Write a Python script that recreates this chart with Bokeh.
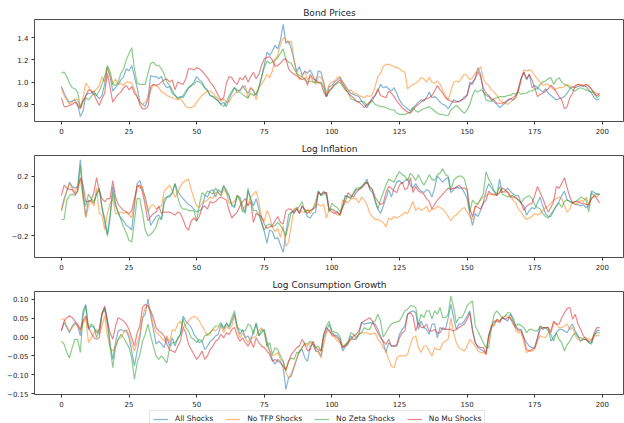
from bokeh.plotting import figure
from bokeh.layouts import column
from bokeh.models import Range1d, FixedTicker, Legend, LegendItem
from bokeh.embed import file_html
from bokeh.resources import INLINE

# ---------------------------------------------------------------- data
periods = list(range(200))
x_ticks = [0, 25, 50, 75, 100, 125, 150, 175, 200]

series_names = ["All Shocks", "No TFP Shocks", "No Zeta Shocks", "No Mu Shocks"]
series_colors = ["#1f77b4", "#ff7f0e", "#2ca02c", "#d62728"]

bond_yticks = [0.8, 1.0, 1.2, 1.4]
bond_ylabels = ["0.8", "1.0", "1.2", "1.4"]
infl_yticks = [-0.2, 0.0, 0.2]
infl_ylabels = ["\u22120.2", "0.0", "0.2"]
cons_yticks = [-0.15, -0.10, -0.05, 0.0, 0.05, 0.10]
cons_ylabels = ["\u22120.15", "\u22120.10", "\u22120.05", "0.00", "0.05", "0.10"]

# Bond prices
bond_all = [
    0.96, 0.90, 0.85, 0.82, 0.83, 0.84, 0.80, 0.69, 0.74, 0.88,
    0.90, 0.90, 0.92, 0.88, 0.85, 0.88, 0.98, 1.13, 1.05, 0.92,
    0.95, 0.98, 1.02, 1.05, 1.12, 1.10, 1.15, 1.05, 0.95, 0.82,
    0.80, 0.78, 0.85, 1.06, 1.05, 1.05, 1.03, 1.05, 0.98, 0.95,
    0.96, 0.90, 0.88, 0.86, 0.87, 0.86, 0.90, 0.95, 0.97, 1.00,
    1.05, 1.02, 1.00, 0.95, 0.93, 0.88, 0.87, 0.85, 0.83, 0.80,
    0.82, 0.78, 0.85, 0.90, 0.95, 0.93, 0.92, 0.97, 0.93, 0.90,
    0.95, 0.92, 0.88, 0.95, 1.05, 1.15, 1.27, 1.24, 1.28, 1.33,
    1.30, 1.38, 1.52, 1.35, 1.37, 1.30, 1.20, 1.09, 1.14, 1.06,
    1.10, 1.08, 1.11, 1.06, 1.00, 1.10, 1.09, 0.99, 0.87, 0.96,
    0.97, 1.00, 1.02, 1.04, 1.00, 0.97, 0.93, 0.90, 0.89, 0.88,
    0.87, 0.83, 0.80, 0.77, 0.82, 0.86, 0.88, 0.92, 0.98, 0.95,
    0.96, 0.94, 0.92, 0.95, 0.90, 0.84, 0.80, 0.78, 0.76, 0.74,
    0.77, 0.79, 0.82, 0.84, 0.83, 0.86, 0.91, 0.86, 0.87, 0.85,
    0.82, 0.80, 0.79, 0.76, 0.80, 0.84, 0.83, 0.82, 0.84, 0.87,
    0.88, 1.00, 0.98, 1.04, 1.13, 1.07, 0.91, 0.88, 0.87, 0.84,
    0.82, 0.80, 0.77, 0.79, 0.81, 0.83, 0.85, 0.84, 0.86, 0.95,
    1.04, 1.09, 1.02, 1.07, 0.95, 0.97, 0.95, 0.93, 0.91, 0.94,
    0.90, 0.88, 0.86, 0.84, 0.85, 0.86, 0.87, 0.90, 0.94, 0.96,
    0.95, 0.96, 0.97, 0.97, 0.96, 0.93, 0.90, 0.86, 0.84, 0.85,
]
bond_no_tfp = [
    0.95, 0.88, 0.84, 0.80, 0.82, 0.85, 0.84, 0.77, 0.86, 0.99,
    0.96, 0.92, 0.91, 0.94, 0.97, 1.05, 1.00, 1.13, 1.06, 0.98,
    1.03, 0.98, 0.99, 0.97, 1.00, 1.00, 0.99, 0.93, 0.87, 0.82,
    0.80, 0.82, 0.87, 0.93, 0.98, 0.97, 0.95, 0.91, 0.90, 0.88,
    0.87, 0.86, 0.85, 0.84, 0.85, 0.82, 0.78, 0.77, 0.77, 0.78,
    0.82, 0.85, 0.88, 0.90, 0.92, 0.92, 0.90, 0.87, 0.85, 0.83,
    0.85, 0.82, 0.82, 0.87, 0.89, 0.92, 0.93, 0.95, 0.97, 0.85,
    0.95, 0.93, 0.84, 0.95, 0.98, 1.02, 1.07, 1.04, 1.10, 1.20,
    1.24, 1.34, 1.40, 1.38, 1.35, 1.37, 1.20, 1.08, 1.02, 1.05,
    1.10, 1.02, 1.05, 1.01, 0.98, 1.05, 1.04, 1.00, 0.90, 0.98,
    1.00, 1.01, 1.04, 1.05, 1.00, 0.95, 0.92, 0.93, 0.90, 0.90,
    0.88, 0.87, 0.86, 0.88, 0.87, 0.89, 0.96, 1.05, 1.08, 1.14,
    1.16, 1.16, 1.15, 1.14, 1.13, 1.12, 1.10, 1.09, 0.94, 0.96,
    0.98, 0.99, 1.01, 1.04, 1.03, 1.00, 1.04, 1.00, 0.99, 1.01,
    0.98, 0.93, 0.88, 0.84, 0.92, 1.00, 1.01, 1.00, 1.04, 1.07,
    1.06, 1.02, 1.04, 1.08, 1.10, 1.14, 1.03, 0.99, 0.97, 0.93,
    0.91, 0.88, 0.84, 0.82, 0.81, 0.80, 0.82, 0.84, 0.86, 0.92,
    1.02, 1.11, 1.10, 1.11, 1.10, 1.06, 1.03, 1.00, 0.97, 0.98,
    0.98, 0.96, 0.93, 0.94, 0.95, 0.95, 0.96, 0.98, 0.97, 0.95,
    0.96, 0.98, 0.98, 0.97, 0.98, 0.97, 0.93, 0.91, 0.90, 0.88,
]
bond_no_zeta = [
    1.08, 1.09, 1.05, 0.99, 0.95, 0.94, 0.91, 0.77, 0.84, 0.86,
    0.84, 0.87, 0.90, 0.88, 0.92, 0.98, 1.05, 1.15, 1.10, 0.98,
    0.97, 1.00, 1.08, 1.12, 1.20, 1.26, 1.31, 1.12, 0.99, 0.98,
    0.98, 0.98, 1.08, 1.17, 1.18, 1.15, 1.15, 1.12, 1.07, 1.00,
    0.97, 0.93, 0.88, 0.85, 0.86, 0.88, 0.92, 0.95, 0.97, 0.98,
    1.01, 1.00, 0.98, 0.95, 0.92, 0.88, 0.87, 0.85, 0.83, 0.80,
    0.78, 0.82, 0.88, 0.92, 0.95, 0.91, 0.91, 0.89, 0.87, 0.86,
    0.90, 0.88, 0.90, 0.95, 1.04, 1.13, 1.19, 1.17, 1.18, 1.20,
    1.22, 1.26, 1.30, 1.20, 1.18, 1.17, 1.12, 1.08, 1.06, 1.05,
    1.02, 1.00, 1.01, 1.00, 1.00, 0.99, 1.00, 0.95, 0.87, 0.92,
    0.94, 0.97, 0.99, 1.00, 0.96, 0.93, 0.91, 0.85, 0.84, 0.83,
    0.82, 0.83, 0.82, 0.79, 0.81, 0.83, 0.80, 0.79, 0.78, 0.78,
    0.77, 0.76, 0.75, 0.75, 0.72, 0.71, 0.71, 0.71, 0.72, 0.73,
    0.77, 0.74, 0.73, 0.75, 0.76, 0.77, 0.78, 0.76, 0.74, 0.72,
    0.71, 0.71, 0.70, 0.70, 0.75, 0.77, 0.79, 0.77, 0.74, 0.72,
    0.75, 0.80, 0.88, 0.93, 0.91, 0.93, 0.92, 0.84, 0.83, 0.83,
    0.85, 0.86, 0.87, 0.87, 0.87, 0.88, 0.88, 0.90, 0.89, 0.91,
    0.89, 0.90, 0.90, 0.92, 0.92, 0.94, 0.94, 0.98, 1.00, 1.01,
    1.03, 1.04, 0.98, 1.02, 1.04, 1.00, 0.98, 0.97, 0.95, 0.93,
    0.92, 0.94, 0.95, 0.94, 0.93, 0.92, 0.91, 0.91, 0.86, 0.88,
]
bond_no_mu = [
    0.86, 0.78, 0.78, 0.79, 0.80, 0.82, 0.79, 0.76, 0.82, 0.88,
    0.93, 0.92, 0.89, 0.84, 0.79, 0.85, 0.90, 1.08, 0.95, 0.82,
    0.86, 0.89, 0.91, 0.95, 0.97, 0.93, 0.96, 0.90, 0.87, 0.80,
    0.76, 0.76, 0.78, 0.96, 0.98, 0.97, 0.98, 1.00, 1.02, 1.03,
    1.00, 1.02, 0.93, 1.00, 0.99, 0.98, 1.03, 1.12, 1.12, 1.11,
    1.13, 1.12, 1.10, 1.07, 1.04, 1.00, 0.97, 0.93, 0.88, 0.84,
    0.86, 0.99, 1.05, 1.04, 1.00, 0.98, 1.04, 1.02, 1.06, 1.00,
    1.05, 1.09, 1.03, 1.07, 1.15, 1.21, 1.22, 1.23, 1.20, 1.14,
    1.15, 1.17, 1.20, 1.21, 1.12, 1.09, 1.07, 1.06, 1.04, 1.02,
    1.04, 0.97, 1.07, 1.03, 1.02, 1.00, 0.99, 0.91, 0.87, 0.92,
    0.95, 0.98, 1.00, 1.02, 0.98, 0.94, 0.90, 0.88, 0.86, 0.83,
    0.82, 0.80, 0.77, 0.80, 0.82, 0.84, 0.88, 0.94, 0.88, 0.87,
    0.86, 0.92, 0.90, 0.87, 0.83, 0.80, 0.77, 0.75, 0.73, 0.72,
    0.75, 0.78, 0.80, 0.82, 0.84, 0.85, 0.86, 0.88, 0.92, 0.97,
    0.93, 0.90, 0.86, 0.84, 0.83, 0.82, 0.82, 0.83, 0.84, 0.85,
    0.88, 0.97, 1.00, 1.03, 1.09, 1.05, 0.95, 0.90, 0.88, 0.85,
    0.84, 0.81, 0.81, 0.81, 0.82, 0.84, 0.85, 0.86, 0.88, 0.93,
    1.03, 1.09, 1.03, 1.07, 1.02, 0.95, 0.87, 0.89, 0.90, 0.92,
    0.94, 0.97, 0.95, 0.91, 0.87, 0.84, 0.76, 0.78, 0.86, 0.90,
    0.97, 0.98, 0.97, 0.96, 0.98, 0.96, 0.94, 0.89, 0.88, 0.90,
]

# Log inflation
infl_all = [
    -0.03, 0.05, 0.10, 0.16, 0.13, 0.12, 0.13, 0.31, 0.09, -0.07,
    0.04, 0.03, 0.02, 0.08, 0.12, -0.02, -0.08, -0.19, -0.06, 0.13,
    0.02, -0.05, -0.08, -0.10, -0.13, -0.14, -0.16, 0.00, 0.15, 0.17,
    0.11, 0.06, -0.02, -0.13, -0.10, -0.07, -0.06, -0.09, 0.02, 0.06,
    0.07, 0.09, 0.15, 0.10, 0.07, 0.05, 0.03, 0.01, 0.00, -0.02,
    -0.04, -0.03, -0.02, 0.07, 0.06, 0.10, 0.11, 0.06, 0.11, 0.09,
    0.13, 0.11, 0.07, 0.00, -0.01, 0.07, 0.06, 0.00, -0.05, 0.10,
    0.05, 0.00, 0.05, -0.02, -0.11, -0.17, -0.25, -0.16, -0.17, -0.22,
    -0.21, -0.26, -0.31, -0.18, -0.06, -0.04, -0.03, -0.01, -0.05, 0.00,
    -0.03, -0.07, -0.08, -0.05, -0.04, 0.10, 0.07, 0.10, 0.07, -0.03,
    -0.02, -0.03, -0.04, -0.06, 0.00, 0.07, 0.06, 0.06, 0.08, 0.11,
    0.11, 0.13, 0.15, 0.18, 0.11, 0.09, 0.04, -0.02, -0.05, 0.00,
    0.05, 0.11, 0.06, 0.12, 0.16, 0.17, 0.15, 0.17, 0.18, 0.14,
    0.12, 0.15, 0.12, 0.10, 0.09, 0.11, 0.10, 0.06, 0.12, 0.20,
    0.18, 0.16, 0.18, 0.19, 0.09, 0.11, 0.13, 0.12, 0.12, 0.09,
    0.05, -0.05, -0.13, -0.05, -0.07, -0.03, 0.02, 0.10, 0.15, 0.12,
    0.10, 0.07, 0.18, 0.09, 0.10, 0.12, 0.10, 0.08, 0.07, 0.07,
    0.02, 0.00, -0.06, -0.03, -0.01, -0.02, 0.02, 0.06, 0.00, -0.05,
    -0.07, -0.07, -0.03, 0.00, 0.03, 0.07, 0.10, 0.04, 0.03, 0.02,
    0.01, 0.01, 0.00, 0.01, -0.01, 0.00, 0.10, 0.09, 0.08, 0.08,
]
infl_no_tfp = [
    -0.03, 0.03, 0.10, 0.15, 0.12, 0.09, 0.13, 0.18, 0.05, -0.08,
    0.00, 0.04, 0.00, 0.12, -0.05, -0.06, -0.16, -0.05, 0.02, 0.05,
    -0.05, -0.05, -0.04, -0.05, -0.04, -0.06, -0.08, 0.02, 0.14, 0.12,
    0.13, 0.04, -0.04, 0.00, 0.01, -0.02, -0.01, 0.00, 0.10, 0.12,
    0.14, 0.10, 0.06, 0.09, 0.13, 0.16, 0.17, 0.18, 0.11, 0.05,
    0.00, -0.01, 0.02, 0.03, 0.04, 0.06, 0.05, 0.09, 0.09, 0.07,
    0.11, 0.09, 0.02, 0.02, 0.03, 0.07, 0.04, -0.03, 0.00, 0.01,
    0.06, 0.08, 0.10, 0.03, -0.08, -0.10, -0.03, -0.07, -0.14, -0.17,
    -0.15, -0.21, -0.13, -0.27, -0.24, -0.13, -0.02, -0.01, -0.03, -0.04,
    -0.04, -0.02, -0.05, -0.02, 0.01, 0.01, 0.00, 0.01, -0.08, -0.02,
    -0.02, -0.04, -0.06, -0.06, 0.04, 0.03, 0.02, 0.05, 0.05, 0.05,
    0.02, 0.06, 0.04, 0.01, -0.05, -0.07, -0.09, -0.09, -0.10, -0.11,
    -0.14, -0.08, -0.09, -0.07, -0.08, -0.07, -0.06, -0.04, -0.05, -0.01,
    0.03, -0.03, -0.01, -0.03, -0.02, 0.00, -0.04, -0.02, -0.02, 0.00,
    -0.01, -0.02, -0.04, -0.07, -0.10, -0.07, -0.06, -0.04, -0.02, -0.01,
    -0.04, -0.07, -0.09, -0.01, 0.02, 0.04, 0.06, 0.07, 0.08, 0.08,
    0.07, 0.08, 0.09, 0.10, 0.09, 0.10, 0.07, 0.04, 0.02, -0.02,
    -0.04, -0.07, -0.09, -0.08, -0.07, -0.05, -0.06, -0.05, -0.03, -0.01,
    0.00, 0.02, 0.04, 0.05, 0.06, 0.05, 0.00, -0.04, -0.02, 0.03,
    0.01, 0.02, 0.04, 0.03, 0.06, 0.01, 0.05, 0.07, 0.06, 0.08,
]
infl_no_zeta = [
    -0.09, -0.09, 0.04, 0.07, 0.08, 0.07, 0.10, 0.27, 0.06, 0.00,
    0.08, 0.05, 0.03, 0.08, 0.11, 0.00, -0.11, -0.20, -0.08, 0.09,
    0.00, -0.04, -0.09, -0.14, -0.18, -0.23, -0.24, -0.10, 0.05, 0.05,
    -0.05, -0.16, -0.20, -0.19, -0.17, -0.14, -0.08, -0.09, 0.05, 0.06,
    0.06, 0.09, 0.15, 0.06, 0.00, -0.02, -0.02, -0.03, -0.03, -0.03,
    -0.10, 0.01, 0.09, 0.07, 0.10, 0.09, 0.08, 0.12, 0.09, 0.07,
    0.14, 0.09, 0.06, 0.01, 0.00, 0.07, 0.04, -0.04, -0.03, 0.12,
    0.04, -0.03, -0.03, -0.06, -0.11, -0.16, -0.13, -0.12, -0.14, -0.13,
    -0.11, -0.13, -0.16, -0.20, -0.12, -0.04, -0.04, -0.02, 0.00, 0.03,
    -0.04, -0.03, -0.03, -0.02, 0.03, 0.10, 0.07, 0.08, 0.09, -0.04,
    0.02, 0.00, -0.01, -0.04, 0.00, 0.07, 0.06, 0.05, 0.09, 0.12,
    0.12, 0.13, 0.15, 0.16, 0.12, 0.11, 0.03, -0.02, 0.04, 0.09,
    0.14, 0.18, 0.17, 0.16, 0.20, 0.23, 0.21, 0.20, 0.17, 0.22,
    0.20, 0.17, 0.21, 0.17, 0.14, 0.17, 0.21, 0.18, 0.17, 0.21,
    0.22, 0.25, 0.21, 0.20, 0.11, 0.17, 0.19, 0.20, 0.20, 0.18,
    0.11, -0.04, 0.04, 0.02, 0.01, 0.05, 0.08, 0.23, 0.18, 0.15,
    0.10, 0.08, 0.13, 0.08, 0.07, 0.06, 0.07, 0.07, 0.05, 0.04,
    0.02, 0.05, 0.06, 0.07, 0.05, 0.01, -0.01, -0.02, -0.05, -0.07,
    -0.08, -0.05, -0.03, 0.00, 0.02, -0.01, 0.03, 0.04, 0.03, 0.02,
    0.03, 0.04, 0.06, 0.05, 0.04, -0.04, 0.09, 0.07, 0.08, 0.08,
]
infl_no_mu = [
    0.07, 0.14, 0.12, 0.11, 0.11, 0.08, 0.10, 0.19, 0.14, 0.03,
    0.03, 0.04, 0.09, 0.19, 0.10, 0.05, 0.03, 0.05, 0.05, 0.17,
    0.06, 0.01, -0.01, -0.03, -0.04, -0.05, -0.03, 0.05, 0.13, 0.14,
    0.09, 0.00, -0.10, -0.07, -0.05, -0.04, 0.00, -0.05, -0.04, -0.04,
    -0.04, -0.05, -0.06, -0.04, -0.05, -0.09, -0.14, -0.16, -0.10, -0.08,
    -0.10, -0.07, -0.01, 0.00, -0.02, 0.03, 0.02, 0.03, 0.05, 0.06,
    0.05, 0.04, -0.03, -0.08, -0.06, -0.04, 0.00, 0.03, 0.05, 0.00,
    0.03, -0.11, -0.05, -0.06, -0.07, -0.12, -0.15, -0.14, -0.13, -0.10,
    -0.07, -0.11, -0.12, -0.03, -0.02, -0.02, -0.05, -0.02, -0.05, 0.00,
    -0.02, -0.05, -0.03, -0.02, -0.01, 0.09, 0.08, 0.09, 0.09, -0.02,
    -0.04, -0.05, -0.04, -0.06, -0.01, 0.03, 0.09, 0.07, 0.06, 0.09,
    0.11, 0.12, 0.14, 0.16, 0.13, 0.11, 0.06, 0.03, 0.01, 0.02,
    0.09, 0.13, 0.12, 0.10, 0.09, 0.14, 0.16, 0.11, 0.12, 0.19,
    0.09, 0.13, 0.10, 0.09, 0.08, 0.05, 0.03, -0.02, 0.01, 0.04,
    0.06, 0.08, 0.10, 0.12, 0.11, 0.12, 0.12, 0.14, 0.12, 0.12,
    0.11, -0.02, -0.07, 0.00, -0.01, -0.02, 0.02, 0.04, 0.10, 0.08,
    0.08, 0.07, 0.09, 0.12, 0.11, 0.09, 0.06, 0.06, 0.06, 0.04,
    0.02, -0.03, 0.00, 0.01, 0.02, 0.07, 0.13, 0.09, 0.05, 0.00,
    -0.04, -0.01, 0.03, 0.13, 0.12, 0.15, 0.19, 0.12, 0.06, 0.02,
    0.03, 0.03, 0.02, 0.02, 0.01, 0.01, 0.05, 0.07, 0.05, 0.02,
]

# Log consumption growth
cons_all = [
    0.018, 0.038, 0.025, 0.011, 0.029, 0.038, 0.029, 0.003, 0.069, 0.086,
    0.020, 0.029, 0.025, 0.011, 0.020, 0.064, 0.078, 0.047, -0.019, -0.059,
    -0.015, 0.016, 0.020, 0.016, 0.016, -0.002, -0.037, -0.077, -0.037, -0.002,
    0.051, 0.060, 0.100, 0.056, 0.020, -0.019, -0.011, -0.019, -0.028, -0.002,
    -0.024, -0.002, -0.024, -0.002, 0.007, 0.055, 0.042, 0.034, 0.025, 0.007,
    -0.002, -0.015, -0.011, -0.033, -0.024, -0.011, -0.006, 0.003, 0.007, 0.034,
    0.020, 0.038, 0.025, 0.042, 0.060, 0.029, 0.007, 0.020, -0.002, 0.003,
    -0.011, 0.016, 0.034, 0.003, 0.011, 0.020, -0.011, -0.037, -0.059, -0.072,
    -0.059, -0.064, -0.081, -0.138, -0.108, -0.103, -0.081, -0.059, -0.037, -0.033,
    -0.055, -0.064, -0.024, -0.019, -0.037, -0.037, -0.050, -0.002, 0.016, 0.034,
    0.012, 0.005, 0.003, -0.006, -0.037, -0.025, -0.019, 0.003, -0.006, -0.006,
    0.007, 0.038, 0.034, 0.036, 0.038, 0.036, 0.034, 0.020, 0.003, -0.015,
    -0.041, -0.015, -0.024, -0.024, -0.020, 0.007, 0.020, 0.029, 0.060, 0.066,
    0.069, 0.064, 0.020, 0.042, 0.025, 0.020, 0.007, 0.034, 0.034, -0.002,
    0.025, 0.020, 0.020, 0.050, 0.086, 0.051, 0.020, 0.034, 0.034, 0.042,
    0.055, 0.069, 0.020, -0.015, -0.028, -0.033, -0.037, -0.041, 0.007, 0.025,
    0.034, 0.047, 0.042, 0.051, 0.047, 0.042, 0.060, 0.051, 0.029, 0.020,
    0.020, -0.002, -0.015, -0.024, -0.028, -0.028, -0.002, 0.029, 0.020, 0.025,
    0.025, -0.011, 0.000, 0.011, 0.020, 0.020, 0.016, 0.011, 0.025, 0.034,
    0.016, 0.003, -0.011, -0.006, -0.006, -0.015, -0.015, 0.003, 0.018, 0.017,
]
cons_no_tfp = [
    0.047, 0.047, 0.029, 0.016, 0.025, 0.034, 0.029, 0.016, 0.034, 0.051,
    -0.015, -0.002, 0.011, 0.020, 0.007, 0.029, 0.056, 0.003, -0.028, -0.037,
    -0.024, -0.006, -0.002, 0.011, 0.020, 0.007, -0.019, -0.037, -0.015, 0.007,
    0.051, 0.078, 0.082, 0.064, 0.034, 0.011, 0.007, -0.002, -0.011, 0.003,
    -0.015, 0.020, 0.016, 0.034, 0.042, 0.025, 0.034, 0.042, 0.051, 0.055,
    0.051, 0.042, 0.029, 0.016, 0.003, 0.011, 0.020, 0.016, 0.025, 0.029,
    0.011, 0.029, 0.020, 0.029, 0.055, 0.020, -0.002, 0.011, -0.002, -0.015,
    -0.002, -0.002, 0.003, 0.016, 0.025, 0.011, -0.024, -0.037, -0.050, -0.046,
    -0.041, -0.059, -0.064, -0.094, -0.108, -0.094, -0.077, -0.055, -0.037, -0.028,
    -0.019, -0.024, -0.015, -0.019, -0.033, -0.041, -0.055, -0.019, 0.011, 0.020,
    0.003, 0.000, -0.011, -0.015, -0.024, -0.020, -0.015, -0.006, -0.006, -0.002,
    0.007, 0.011, 0.011, 0.011, 0.007, 0.009, 0.011, -0.006, -0.015, -0.028,
    -0.037, -0.059, -0.077, -0.081, -0.055, -0.050, -0.050, -0.050, -0.046, -0.020,
    -0.002, 0.003, -0.028, -0.041, -0.024, -0.024, -0.037, -0.050, -0.028, -0.033,
    -0.033, -0.015, -0.011, -0.006, 0.051, 0.011, -0.015, -0.028, -0.033, -0.037,
    -0.024, -0.006, -0.015, -0.024, -0.037, -0.041, -0.041, -0.046, -0.002, 0.029,
    0.029, 0.047, 0.042, 0.051, 0.055, 0.056, 0.047, 0.042, 0.016, 0.011,
    0.011, -0.015, -0.041, -0.037, -0.037, -0.033, -0.011, 0.003, 0.000, -0.002,
    0.011, 0.020, 0.038, 0.034, 0.025, 0.025, 0.029, 0.034, 0.020, 0.025,
    0.003, -0.006, -0.011, -0.002, -0.002, -0.006, -0.006, 0.003, 0.003, 0.005,
]
cons_no_zeta = [
    -0.011, -0.019, -0.041, -0.055, -0.028, -0.006, -0.006, -0.041, 0.056, 0.082,
    0.025, 0.034, 0.029, -0.002, 0.020, 0.060, 0.073, 0.034, -0.024, -0.081,
    -0.028, -0.006, 0.007, -0.002, -0.015, -0.028, -0.055, -0.112, -0.068, -0.046,
    -0.011, 0.007, 0.034, 0.003, -0.024, -0.050, -0.059, -0.050, -0.059, -0.068,
    -0.028, -0.015, -0.015, -0.006, 0.007, 0.047, 0.025, 0.016, -0.002, -0.006,
    -0.015, -0.006, -0.011, 0.003, 0.007, 0.011, 0.020, 0.029, 0.029, 0.038,
    0.025, 0.034, 0.029, 0.051, 0.069, 0.025, 0.020, 0.016, 0.016, 0.034,
    0.029, 0.007, 0.038, 0.003, 0.020, 0.016, -0.024, -0.015, -0.046, -0.028,
    -0.033, -0.050, -0.064, -0.090, -0.064, -0.055, -0.059, -0.041, -0.041, -0.028,
    -0.015, -0.019, -0.011, -0.015, -0.028, -0.024, -0.037, 0.007, 0.029, 0.042,
    0.016, 0.013, 0.011, 0.000, -0.028, -0.020, -0.011, 0.011, 0.007, -0.002,
    0.007, 0.011, 0.025, 0.020, 0.020, 0.038, 0.042, 0.060, 0.042, 0.000,
    0.011, 0.025, 0.034, 0.038, 0.040, 0.042, 0.055, 0.069, 0.073, 0.082,
    0.082, 0.078, 0.034, 0.060, 0.051, 0.069, 0.069, 0.047, 0.069, 0.060,
    0.078, 0.051, 0.051, 0.060, 0.108, 0.078, 0.038, 0.051, 0.051, 0.064,
    0.082, 0.090, 0.095, 0.029, 0.016, 0.000, -0.015, -0.028, -0.028, 0.025,
    0.060, 0.069, 0.060, 0.051, 0.055, 0.064, 0.064, 0.042, 0.029, 0.034,
    0.030, 0.025, 0.011, 0.020, 0.020, 0.016, 0.016, 0.029, 0.025, 0.025,
    0.016, 0.007, -0.011, 0.011, -0.006, -0.015, -0.037, -0.020, -0.011, 0.003,
    0.011, 0.000, -0.002, -0.006, -0.006, -0.015, -0.019, 0.007, 0.011, 0.011,
]
cons_no_mu = [
    0.016, 0.042, 0.051, 0.056, 0.051, 0.042, 0.034, 0.020, 0.042, 0.056,
    0.025, 0.011, -0.002, -0.006, -0.002, 0.060, 0.082, 0.042, 0.011, -0.006,
    0.029, 0.051, 0.047, 0.042, 0.034, 0.020, -0.002, -0.024, 0.011, 0.029,
    0.078, 0.086, 0.082, 0.069, 0.051, 0.025, 0.016, 0.011, 0.003, -0.019,
    -0.033, -0.037, -0.041, -0.024, -0.011, 0.025, 0.011, -0.019, -0.033, -0.046,
    -0.059, -0.050, -0.037, -0.059, -0.050, -0.033, -0.024, -0.011, -0.006, 0.007,
    -0.002, 0.011, 0.007, 0.020, 0.025, 0.003, -0.011, -0.002, -0.015, -0.024,
    -0.011, -0.028, -0.002, -0.015, -0.024, -0.028, -0.037, -0.046, -0.064, -0.059,
    -0.064, -0.068, -0.077, -0.086, -0.064, -0.046, -0.037, -0.028, -0.024, -0.006,
    -0.019, -0.037, -0.033, -0.011, -0.028, -0.033, -0.037, 0.007, 0.025, 0.016,
    0.007, 0.003, -0.002, -0.011, -0.028, -0.024, -0.015, -0.006, 0.003, 0.007,
    0.016, 0.038, 0.042, 0.047, 0.051, 0.042, 0.025, 0.011, -0.002, -0.011,
    -0.020, -0.006, -0.024, -0.024, -0.024, -0.002, 0.011, 0.016, 0.060, 0.064,
    0.055, 0.016, 0.038, 0.025, 0.025, 0.034, 0.016, 0.016, 0.020, 0.011,
    0.011, 0.025, 0.020, 0.020, 0.020, 0.016, 0.020, 0.025, 0.029, 0.034,
    0.047, 0.064, 0.016, -0.015, -0.024, -0.028, -0.028, -0.046, 0.003, 0.029,
    0.042, 0.042, 0.038, 0.051, 0.047, 0.051, 0.051, 0.034, 0.025, 0.016,
    0.016, -0.002, -0.033, -0.037, -0.033, -0.028, -0.006, 0.020, 0.025, 0.025,
    0.025, 0.011, 0.042, 0.034, 0.034, 0.051, 0.064, 0.075, 0.078, 0.047,
    0.060, 0.034, 0.020, 0.003, -0.006, -0.011, -0.011, 0.011, 0.025, 0.025,
]

# ---------------------------------------------------------------- styling
FONT = "DejaVu Sans"
TEXT_COLOR = "#262626"
LINE_ALPHA = 0.55
LINE_WIDTH = 1.2


def make_panel(title, series, y_start, y_end, yticks, ylabels,
               height, border_top, border_bottom):
    p = figure(
        width=624, height=height, title=title,
        x_range=Range1d(-9.95, 208.2), y_range=Range1d(y_start, y_end),
        output_backend="svg", toolbar_location=None,
        min_border_left=34, min_border_right=0,
        min_border_top=border_top, min_border_bottom=border_bottom,
    )
    p.title.align = "center"
    p.title.text_font = FONT
    p.title.text_font_size = "9px"
    p.title.text_font_style = "normal"
    p.title.text_color = TEXT_COLOR
    p.title.standoff = 4

    p.background_fill_color = "white"
    p.border_fill_color = "white"
    p.outline_line_color = "#4d4d4d"
    p.outline_line_width = 1
    p.xgrid.visible = False
    p.ygrid.visible = False

    p.xaxis.ticker = FixedTicker(ticks=x_ticks)
    p.yaxis.ticker = FixedTicker(ticks=yticks)
    p.yaxis.major_label_overrides = dict(zip(yticks, ylabels))
    for ax in (p.xaxis[0], p.yaxis[0]):
        ax.axis_line_color = None
        ax.major_tick_in = 0
        ax.major_tick_out = 3
        ax.major_tick_line_color = "#333333"
        ax.minor_tick_line_color = None
        ax.major_label_text_font = FONT
        ax.major_label_text_font_size = "7px"
        ax.major_label_text_color = TEXT_COLOR
        ax.major_label_standoff = 3

    for ys, color in zip(series, series_colors):
        p.line(periods, ys, line_color=color, line_alpha=LINE_ALPHA, line_width=LINE_WIDTH)
    return p


cons_series = [cons_all, cons_no_tfp, cons_no_zeta, cons_no_mu]

p1 = make_panel("Bond Prices",
                [bond_all, bond_no_tfp, bond_no_zeta, bond_no_mu],
                0.646, 1.563, bond_yticks, bond_ylabels, 136, 19, 14)
p2 = make_panel("Log Inflation",
                [infl_all, infl_no_tfp, infl_no_zeta, infl_no_mu],
                -0.344, 0.338, infl_yticks, infl_ylabels, 136, 19, 14)
p3 = make_panel("Log Consumption Growth", cons_series,
                -0.1516, 0.120, cons_yticks, cons_ylabels, 137, 19, 15)

# Legend strip: the same consumption series, with the view placed away from
# the data so only the legend box shows.
key = figure(width=624, height=14, x_range=Range1d(0, 1), y_range=Range1d(10, 11),
             x_axis_type=None, y_axis_type=None, output_backend="svg",
             toolbar_location=None, min_border=0, outline_line_color=None)
key.background_fill_color = "white"
key.border_fill_color = "white"
key_lines = [key.line(periods, ys, line_color=c, line_alpha=LINE_ALPHA, line_width=LINE_WIDTH)
             for ys, c in zip(cons_series, series_colors)]

legend = Legend(
    items=[LegendItem(label=name, renderers=[r]) for name, r in zip(series_names, key_lines)],
    orientation="horizontal", location=(115, -4),
    label_text_font=FONT, label_text_font_size="7.5px", label_text_color=TEXT_COLOR,
    glyph_width=15, glyph_height=8, label_height=8, label_standoff=7,
    spacing=12, padding=3, margin=0,
    border_line_color="#cccccc", border_line_width=1,
    background_fill_color="white", background_fill_alpha=1.0,
)
key.add_layout(legend)

layout = column(p1, p2, p3, key, spacing=0)
open("out.html", "w").write(file_html(layout, INLINE))
